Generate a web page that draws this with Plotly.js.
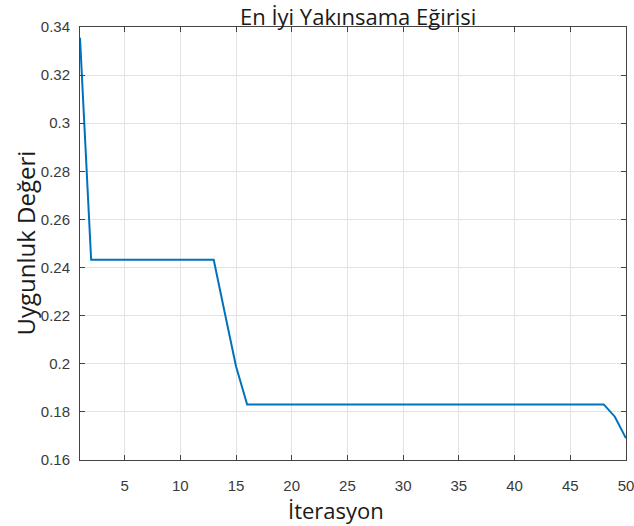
<!DOCTYPE html>
<html>
<head>
<meta charset="utf-8">
<script src="https://cdn.plot.ly/plotly-3.0.1.min.js"></script>
<style>html,body{margin:0;padding:0;background:#fff;}#chart{width:634px;height:526px;}</style>
</head>
<body>
<div id="chart"></div>
<script>
const iterations = [1,2,3,4,5,6,7,8,9,10,11,12,13,14,15,16,17,18,19,20,21,22,23,24,25,26,27,28,29,30,31,32,33,34,35,36,37,38,39,40,41,42,43,44,45,46,47,48,49,50];
const fitness = [0.3355,0.2432,0.2432,0.2432,0.2432,0.2432,0.2432,0.2432,0.2432,0.2432,0.2432,0.2432,0.2432,0.221,0.199,0.1831,0.1831,0.1831,0.1831,0.1831,0.1831,0.1831,0.1831,0.1831,0.1831,0.1831,0.1831,0.1831,0.1831,0.1831,0.1831,0.1831,0.1831,0.1831,0.1831,0.1831,0.1831,0.1831,0.1831,0.1831,0.1831,0.1831,0.1831,0.1831,0.1831,0.1831,0.1831,0.1831,0.178,0.169];
const xTickVals = [5,10,15,20,25,30,35,40,45,50];
const xTickText = ["5","10","15","20","25","30","35","40","45","50"];
const yTickVals = [0.16,0.18,0.2,0.22,0.24,0.26,0.28,0.3,0.32,0.34];
const yTickText = ["0.16","0.18","0.2","0.22","0.24","0.26","0.28","0.3","0.32","0.34"];
const titleText = "En İyi Yakınsama Eğirisi";
const xTitle = "İterasyon";
const yTitle = "Uygunluk Değeri";

const tickFont = {family: "Liberation Sans, Arial, sans-serif", size: 15, color: "#3a3a3a"};
const axisCommon = {
  showline: true, linecolor: "#444", linewidth: 1, mirror: "ticks",
  ticks: "inside", ticklen: 5, tickcolor: "#444", tickwidth: 1,
  showgrid: true, gridcolor: "#e3e3e3", gridwidth: 1,
  zeroline: false, tickfont: tickFont, tickmode: "array", ticklabeloverflow: "allow"
};

const data = [{
  x: iterations, y: fitness, type: "scatter", mode: "lines",
  line: {color: "#0072BD", width: 2}, hoverinfo: "skip"
}];

const layout = {
  width: 634, height: 526,
  paper_bgcolor: "#fff", plot_bgcolor: "#fff",
  margin: {l: 80, r: 8, t: 27, b: 66},
  showlegend: false,
  xaxis: Object.assign({}, axisCommon, {range: [1, 50], tickvals: xTickVals, ticktext: xTickText, ticklabelstandoff: 12}),
  yaxis: Object.assign({}, axisCommon, {range: [0.16, 0.34], tickvals: yTickVals, ticktext: yTickText, ticklabelstandoff: 6}),
  annotations: [
    {text: titleText, xref: "paper", yref: "paper", x: (358-80)/546, y: 1 + 11/433, xanchor: "center", yanchor: "middle",
     showarrow: false, font: {family: "Open Sans, sans-serif", size: 22, color: "#1a1a1a"}},
    {text: xTitle, xref: "paper", yref: "paper", x: (336-80)/546, y: -(510-460)/433, xanchor: "center", yanchor: "middle",
     showarrow: false, font: {family: "Open Sans, sans-serif", size: 22, color: "#1a1a1a"}},
    {text: yTitle, xref: "paper", yref: "paper", x: -(80-25)/546, y: 0.5, xanchor: "center", yanchor: "middle", textangle: -90,
     showarrow: false, font: {family: "Open Sans, sans-serif", size: 24, color: "#1a1a1a"}}
  ]
};

Plotly.newPlot("chart", data, layout, {displayModeBar: false, staticPlot: true});
</script>
</body>
</html>
